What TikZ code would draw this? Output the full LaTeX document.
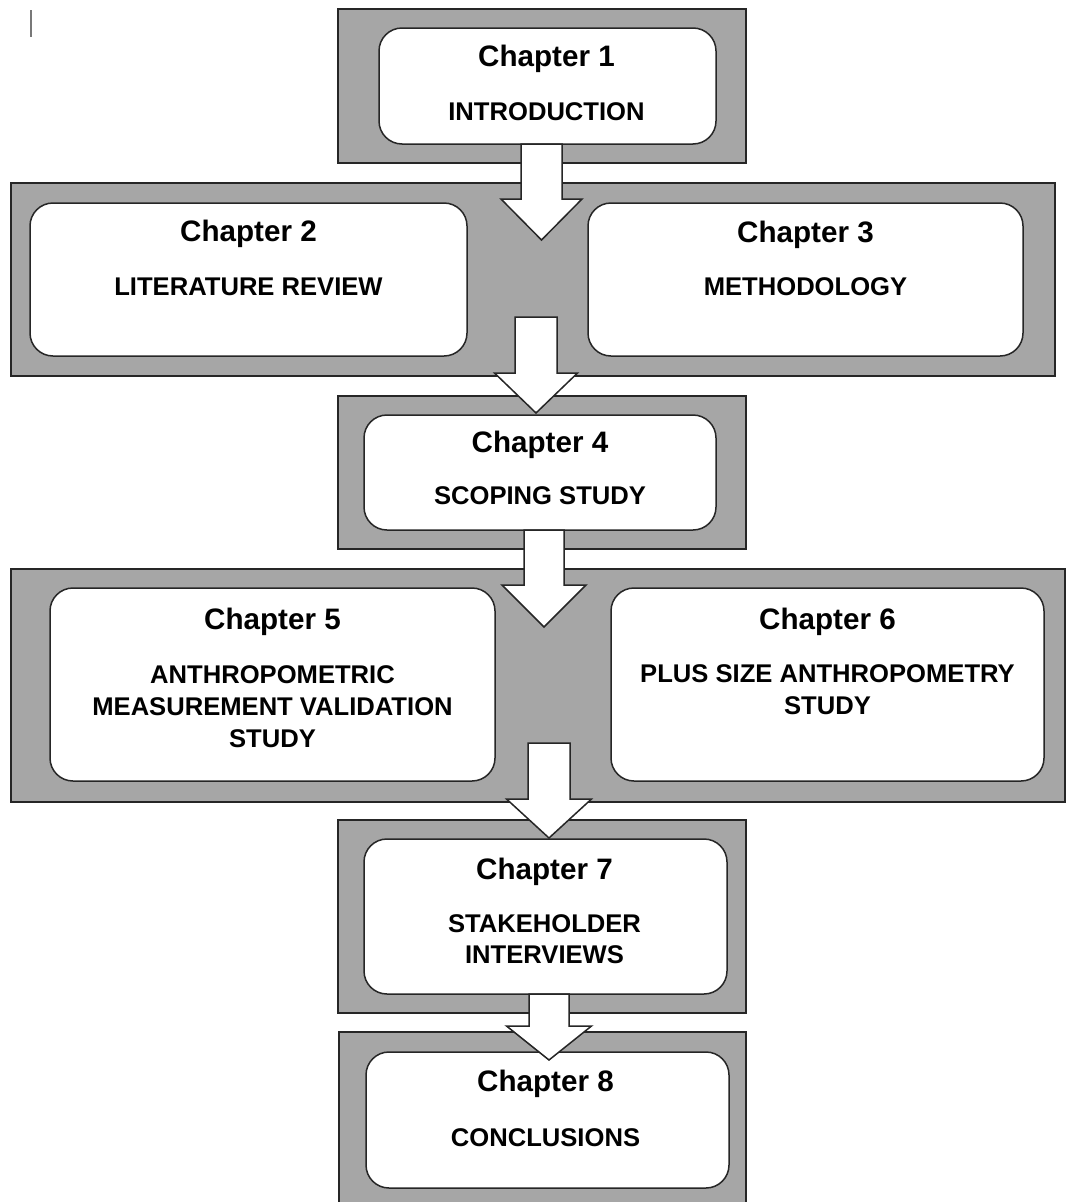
\documentclass[tikz,border=0pt]{standalone}
\usepackage{fontspec}
\setmainfont{Liberation Sans}
\usetikzlibrary{calc}

\definecolor{panelgray}{RGB}{166,166,166}
\definecolor{edgeline}{RGB}{38,38,38}
\definecolor{caretgray}{RGB}{120,120,120}

\tikzset{
  panel/.style={draw=edgeline, fill=panelgray, line width=1.5pt, rectangle, inner sep=0pt},
  chapbox/.style={draw=edgeline, fill=white, line width=1.5pt, rectangle,
                  rounded corners=23pt, inner sep=0pt},
  chaptitle/.style={font=\fontsize{29.6}{34}\selectfont\bfseries, anchor=base, inner sep=0pt},
  chapsub/.style={font=\fontsize{25.6}{32}\selectfont\bfseries, anchor=base, inner sep=0pt},
  flowarrow/.style={draw=edgeline, fill=white, line width=1.5pt, line join=miter},
  caret/.style={draw=caretgray, line width=2pt},
}

% Block arrow pointing down from coordinate #1 to tip #2;
% #3 shaft half-width, #4 head half-width, #5 head length (all in pt)
\newcommand\downblock[5]{%
  \draw[flowarrow] ($(#1)+(-#3,0)$) -- ($(#2)+(-#3,-#5)$) -- ($(#2)+(-#4,-#5)$)
    -- (#2) -- ($(#2)+(#4,-#5)$) -- ($(#2)+(#3,-#5)$) -- ($(#1)+(#3,0)$) -- cycle;}

\begin{document}
\begin{tikzpicture}[x=1pt, y=-1pt]
  \clip (0,0) rectangle (1068,1202);

  % caret mark at the top left
  \coordinate (caretA) at (31,10);
  \coordinate (caretB) at (31,37);
  \draw[caret] (caretA) -- (caretB);

  % grey panels behind each stage
  \node[panel, minimum width=408pt,  minimum height=154pt] (p1) at (542,86) {};
  \node[panel, minimum width=1044pt, minimum height=193pt] (p2) at (533,279.5) {};
  \node[panel, minimum width=408pt,  minimum height=153pt] (p3) at (542,472.5) {};
  \node[panel, minimum width=1054pt, minimum height=233pt] (p4) at (538,685.5) {};
  \node[panel, minimum width=408pt,  minimum height=193pt] (p5) at (542,916.5) {};
  \node[panel, minimum width=407pt,  minimum height=208pt] (p6) at (542.5,1136) {};

  % chapter boxes
  \node[chapbox, minimum width=337pt, minimum height=116pt] (b1) at (547.5,86) {};
  \node[chapbox, minimum width=437pt, minimum height=153pt] (b2) at (248.5,279.5) {};
  \node[chapbox, minimum width=435pt, minimum height=153pt] (b3) at (805.5,279.5) {};
  \node[chapbox, minimum width=352pt, minimum height=115pt] (b4) at (540,472.5) {};
  \node[chapbox, minimum width=445pt, minimum height=193pt] (b5) at (272.5,684.5) {};
  \node[chapbox, minimum width=433pt, minimum height=193pt] (b6) at (827.5,684.5) {};
  \node[chapbox, minimum width=363pt, minimum height=155pt] (b7) at (545.5,916.5) {};
  \node[chapbox, minimum width=363pt, minimum height=136pt] (b8) at (547.5,1120) {};

  % titles and subjects
  \node[chaptitle] (t1) at ($(b1.north)+(-1,39)$) {Chapter 1};
  \node[chapsub]   (s1) at ($(b1.north)+(-1,93.5)$) {INTRODUCTION};

  \node[chaptitle] (t2) at ($(b2.north)+(0,39.5)$) {Chapter 2};
  \node[chapsub]   (s2) at ($(b2.north)+(0,93.5)$) {LITERATURE REVIEW};

  \node[chaptitle] (t3) at ($(b3.north)+(0,40)$) {Chapter 3};
  \node[chapsub]   (s3) at ($(b3.north)+(0,93.5)$) {METHODOLOGY};

  \node[chaptitle] (t4) at ($(b4.north)+(0,38.5)$) {Chapter 4};
  \node[chapsub]   (s4) at ($(b4.north)+(0,90.5)$) {SCOPING STUDY};

  \node[chaptitle] (t5) at ($(b5.north)+(0,42)$) {Chapter 5};
  \node[chapsub]   (s5a) at ($(b5.north)+(0,96)$) {ANTHROPOMETRIC};
  \node[chapsub]   (s5b) at ($(b5.north)+(0,128)$) {MEASUREMENT VALIDATION};
  \node[chapsub]   (s5c) at ($(b5.north)+(0,160)$) {STUDY};

  \node[chaptitle] (t6) at ($(b6.north)+(0,42)$) {Chapter 6};
  \node[chapsub]   (s6a) at ($(b6.north)+(0,95.5)$) {PLUS SIZE ANTHROPOMETRY};
  \node[chapsub]   (s6b) at ($(b6.north)+(0,127.5)$) {STUDY};

  \node[chaptitle] (t7) at ($(b7.north)+(-1,41)$) {Chapter 7};
  \node[chapsub]   (s7a) at ($(b7.north)+(-1,94)$) {STAKEHOLDER};
  \node[chapsub]   (s7b) at ($(b7.north)+(-1,125.5)$) {INTERVIEWS};

  \node[chaptitle] (t8) at ($(b8.north)+(-2,40)$) {Chapter 8};
  \node[chapsub]   (s8) at ($(b8.north)+(-2,95)$) {CONCLUSIONS};

  % flow arrows between stages
  \coordinate (a1s) at (541.5,144);  \coordinate (a1t) at (541.5,240);
  \coordinate (a2s) at (536,317);    \coordinate (a2t) at (536,413);
  \coordinate (a3s) at (544,530);    \coordinate (a3t) at (544,627);
  \coordinate (a4s) at (549,743);    \coordinate (a4t) at (549,838);
  \coordinate (a5s) at (549,994);    \coordinate (a5t) at (549,1060);

  \downblock{a1s}{a1t}{20.5}{40.5}{41}
  \downblock{a2s}{a2t}{21}{41.5}{40}
  \downblock{a3s}{a3t}{20}{42}{42}
  \downblock{a4s}{a4t}{21}{42.5}{39}
  \downblock{a5s}{a5t}{20}{42.5}{34}
\end{tikzpicture}
\end{document}
